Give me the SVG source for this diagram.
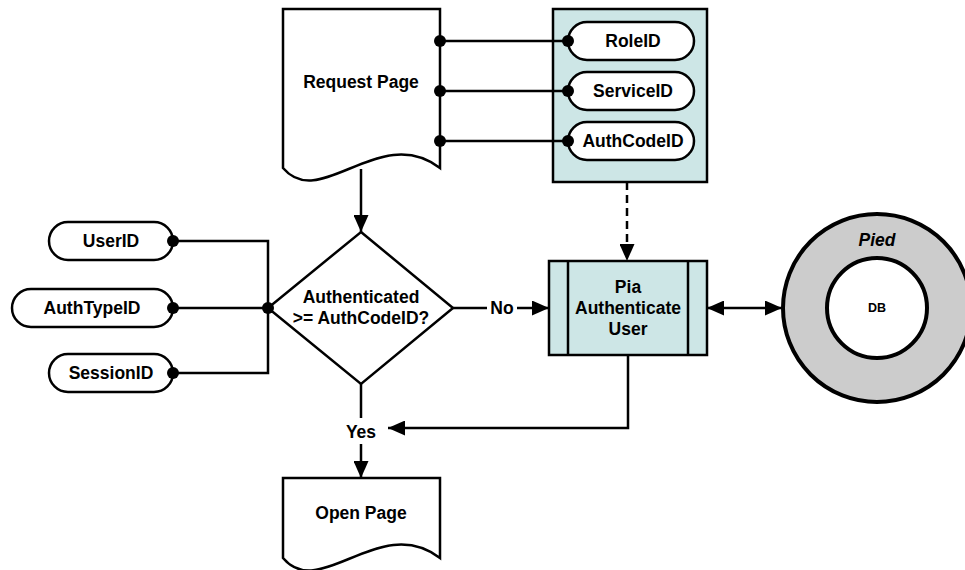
<svg xmlns="http://www.w3.org/2000/svg" width="965" height="570" viewBox="0 0 965 570">
<defs>
<style>
.s{fill:#fff;stroke:#000;stroke-width:2.5}
.t{fill:#cde6e6;stroke:#000;stroke-width:2.5}
.c{fill:none;stroke:#000;stroke-width:2.5}
.d{fill:#000}
text{font-family:"Liberation Sans",Arial,sans-serif;font-weight:bold;font-size:17.5px;text-anchor:middle;dominant-baseline:central;fill:#000}
</style>
<marker id="ah" viewBox="0 0 17 15" refX="17" refY="7.5" markerWidth="17" markerHeight="15" markerUnits="userSpaceOnUse" orient="auto-start-reverse">
<path d="M0,0 L17,7.5 L0,15 Z" fill="#000"/>
</marker>
</defs>
<rect width="965" height="570" fill="#fff"/>

<g id="request-page">
<path class="s" d="M283,9 H440 V168 C380,122 320,212 283,168 Z"/>
<text x="361" y="82">Request Page</text>
</g>

<g id="attrs-box">
<rect class="t" x="553" y="9" width="154" height="173"/>
</g>
<g id="roleid"><rect class="s" x="568" y="22" width="126" height="38" rx="19"/><text x="633" y="41">RoleID</text></g>
<g id="serviceid"><rect class="s" x="568" y="72" width="126" height="38" rx="19"/><text x="633" y="91">ServiceID</text></g>
<g id="authcodeid"><rect class="s" x="568" y="122" width="126" height="38" rx="19"/><text x="633" y="141">AuthCodeID</text></g>

<g id="userid"><rect class="s" x="49" y="222" width="124" height="38" rx="19"/><text x="111" y="241">UserID</text></g>
<g id="authtypeid"><rect class="s" x="12" y="289" width="161" height="38" rx="19"/><text x="92" y="308">AuthTypeID</text></g>
<g id="sessionid"><rect class="s" x="49" y="354" width="124" height="38" rx="19"/><text x="111" y="373">SessionID</text></g>

<g id="decision">
<path class="s" d="M361,232 L453,308 L361,384 L268,308 Z"/>
<text x="361" y="297">Authenticated</text>
<text x="361" y="318">&gt;= AuthCodeID?</text>
</g>

<g id="pia">
<rect class="t" x="549" y="261" width="158" height="94"/>
<line class="c" x1="568" y1="261" x2="568" y2="355"/>
<line class="c" x1="688" y1="261" x2="688" y2="355"/>
<text x="628" y="287">Pia</text>
<text x="628" y="308">Authenticate</text>
<text x="628" y="329">User</text>
</g>

<g id="pied">
<circle cx="877" cy="308" r="94" fill="#cccccc" stroke="#000" stroke-width="4"/>
<circle cx="877" cy="308" r="50" fill="#fff" stroke="#000" stroke-width="4"/>
<text x="877" y="240" style="font-style:italic">Pied</text>
<text x="877" y="308" style="font-size:12.5px">DB</text>
</g>

<g id="open-page">
<path class="s" d="M283,478 H440 V558 C380,512 320,602 283,558 Z"/>
<text x="361" y="513">Open Page</text>
</g>

<g id="connectors">
<line class="c" x1="440" y1="41" x2="568" y2="41"/>
<line class="c" x1="440" y1="91" x2="568" y2="91"/>
<line class="c" x1="440" y1="141" x2="568" y2="141"/>
<circle class="d" cx="440" cy="41" r="6"/>
<circle class="d" cx="440" cy="91" r="6"/>
<circle class="d" cx="440" cy="141" r="6"/>
<circle class="d" cx="568" cy="41" r="6"/>
<circle class="d" cx="568" cy="91" r="6"/>
<circle class="d" cx="568" cy="141" r="6"/>

<polyline class="c" points="173,241 268,241 268,373 173,373"/>
<line class="c" x1="173" y1="308" x2="268" y2="308"/>
<circle class="d" cx="173" cy="241" r="6"/>
<circle class="d" cx="173" cy="308" r="6"/>
<circle class="d" cx="173" cy="373" r="6"/>
<circle class="d" cx="268" cy="308" r="6"/>

<line class="c" x1="361" y1="169" x2="361" y2="232" marker-end="url(#ah)"/>
<line class="c" x1="627" y1="182" x2="627" y2="261" stroke-dasharray="8,5" marker-end="url(#ah)"/>

<line class="c" x1="453" y1="308" x2="487" y2="308"/>
<text x="502" y="308">No</text>
<line class="c" x1="517" y1="308" x2="549" y2="308" marker-end="url(#ah)"/>

<line class="c" x1="707" y1="308" x2="782" y2="308" marker-start="url(#ah)" marker-end="url(#ah)"/>

<line class="c" x1="361" y1="384" x2="361" y2="418"/>
<text x="361" y="432">Yes</text>
<line class="c" x1="361" y1="444" x2="361" y2="478" marker-end="url(#ah)"/>

<polyline class="c" points="628,355 628,428 388,428" marker-end="url(#ah)"/>
</g>
</svg>
